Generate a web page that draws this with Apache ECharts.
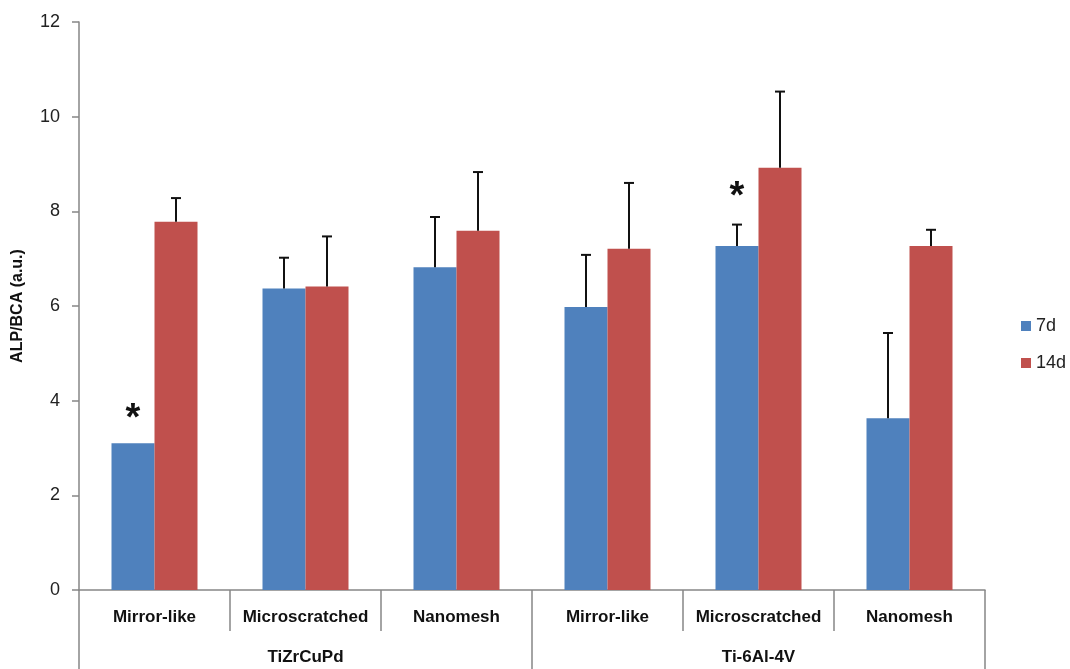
<!DOCTYPE html>
<html>
<head>
<meta charset="utf-8">
<script src="https://cdn.jsdelivr.net/npm/echarts@6/dist/echarts.min.js"></script>
<style>
  html, body { margin: 0; padding: 0; background: #fff; }
  #main { width: 1070px; height: 669px; }
</style>
</head>
<body>
<div id="main"></div>
<script>
// data
const categories = ['Mirror-like', 'Microscratched', 'Nanomesh', 'Mirror-like', 'Microscratched', 'Nanomesh']
const groups = ['TiZrCuPd', 'Ti-6Al-4V']
const d7 = [3.1, 6.37, 6.82, 5.98, 7.27, 3.63]
const d14 = [7.78, 6.41, 7.59, 7.21, 8.92, 7.27]
// upper error (SD)
const err7 = [0, 0.65, 1.06, 1.1, 0.45, 1.8]
const err14 = [0.5, 1.06, 1.24, 1.39, 1.61, 0.34]
// asterisk marks on the 7d series
const star7 = [true, false, false, false, true, false]

const font = '"Liberation Sans", Arial, sans-serif'
const barW = 43
const axisGray = '#868686'

const myChart = echarts.init(document.getElementById('main'))

// error bar drawn on top of a bar, shifted by offset px
const errRender = (offset) => (params, api) => {
  const e = api.value(2)
  if (!e) return
  const x = api.value(0)
  const v = api.value(1)
  const base = api.coord([x, v])
  const top = api.coord([x, v + e])
  const cx = base[0] + offset
  const st = { stroke: '#111', lineWidth: 2 }
  return {
    type: 'group',
    children: [
      { type: 'line', shape: { x1: cx, y1: base[1], x2: cx, y2: top[1] }, style: st },
      { type: 'line', shape: { x1: cx - 5, y1: top[1], x2: cx + 5, y2: top[1] }, style: st }
    ]
  }
}

const data7 = d7.map((v, i) => {
  if (!star7[i]) return v
  return {
    value: v,
    label: {
      show: true,
      formatter: '*',
      position: 'top',
      distance: err7[i] ? 29 : 5,
      fontSize: 38,
      fontWeight: 'bold',
      color: '#111',
      fontFamily: font
    }
  }
})

const option = {
  animation: false,
  grid: { left: 79, right: 85, top: 22, bottom: 79 },
  legend: {
    orient: 'vertical',
    left: 1016,
    top: 312,
    icon: 'rect',
    itemWidth: 10,
    itemHeight: 10,
    itemGap: 19,
    textStyle: { fontSize: 18, color: '#222', fontFamily: font },
    data: ['7d', '14d']
  },
  xAxis: [
    {
      type: 'category',
      data: categories,
      axisLine: { lineStyle: { color: axisGray, width: 1.5 } },
      axisTick: { show: true, interval: 0, length: 41, lineStyle: { color: axisGray, width: 1.5 } },
      axisLabel: { margin: 19, fontSize: 17, fontWeight: 'bold', color: '#111', fontFamily: font, interval: 0 }
    },
    {
      type: 'category',
      data: groups,
      position: 'bottom',
      axisLine: { show: false },
      axisTick: { show: true, interval: 0, length: 80, lineStyle: { color: axisGray, width: 1.5 } },
      axisLabel: { margin: 59, fontSize: 17, fontWeight: 'bold', color: '#111', fontFamily: font }
    }
  ],
  yAxis: {
    type: 'value',
    min: 0,
    max: 12,
    interval: 2,
    name: 'ALP/BCA (a.u.)',
    nameLocation: 'middle',
    nameGap: 53,
    nameTextStyle: { fontSize: 16, fontWeight: 'bold', color: '#111', fontFamily: font },
    axisLine: { show: true, lineStyle: { color: axisGray, width: 1.5 } },
    axisTick: { show: true, length: 7, lineStyle: { color: axisGray, width: 1.5 } },
    axisLabel: { margin: 19, fontSize: 18, color: '#222', fontFamily: font },
    splitLine: { show: false }
  },
  series: [
    {
      name: '7d',
      type: 'bar',
      data: data7,
      barWidth: barW,
      barGap: '0%',
      itemStyle: { color: '#4F81BD' }
    },
    {
      name: '14d',
      type: 'bar',
      data: d14,
      barWidth: barW,
      barGap: '0%',
      itemStyle: { color: '#C0504D' }
    },
    {
      name: 'err7',
      type: 'custom',
      renderItem: errRender(-barW / 2),
      data: d7.map((v, i) => [i, v, err7[i]]),
      z: 10,
      silent: true
    },
    {
      name: 'err14',
      type: 'custom',
      renderItem: errRender(barW / 2),
      data: d14.map((v, i) => [i, v, err14[i]]),
      z: 10,
      silent: true
    }
  ]
}
myChart.setOption(option)
</script>
</body>
</html>
